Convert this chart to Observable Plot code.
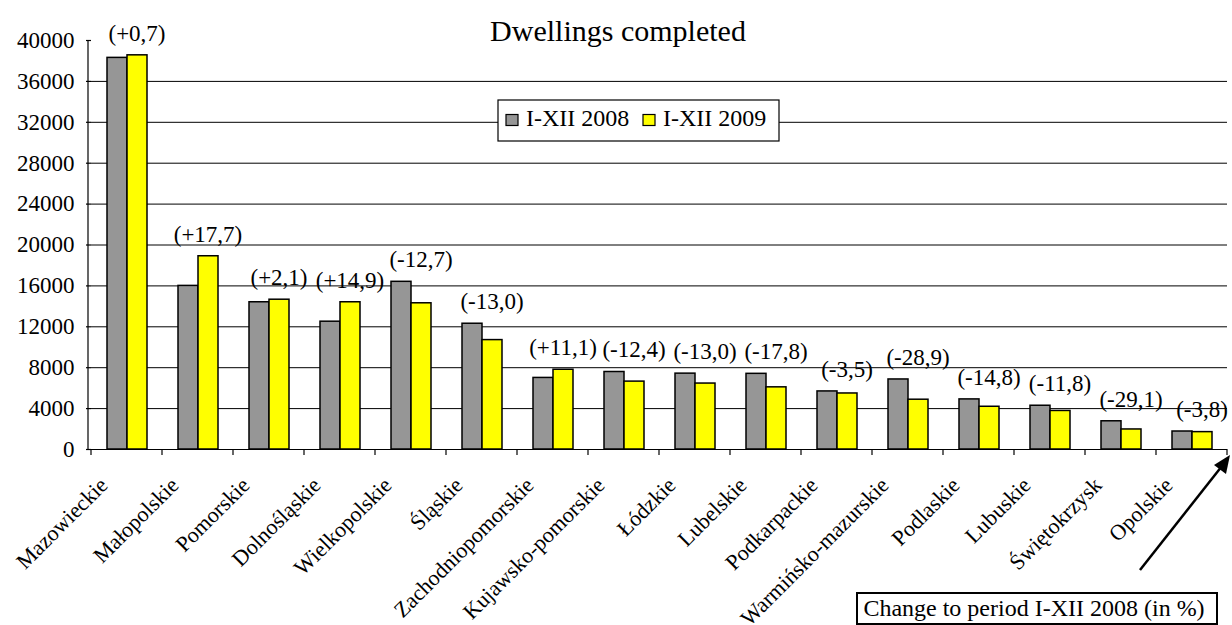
<!DOCTYPE html>
<html><head><meta charset="utf-8">
<script src="https://cdn.jsdelivr.net/npm/d3@7"></script>
<script src="https://cdn.jsdelivr.net/npm/@observablehq/plot@0.6"></script>
<style>body{margin:0;background:#fff} svg{display:block}</style>
</head><body><div id="chart"></div>
<script>
const regions = ["Mazowieckie","Małopolskie","Pomorskie","Dolnośląskie","Wielkopolskie","Śląskie","Zachodniopomorskie","Kujawsko-pomorskie","Łódzkie","Lubelskie","Podkarpackie","Warmińsko-mazurskie","Podlaskie","Lubuskie","Świętokrzysk","Opolskie"];
const dwellings2008 = [38300,16000,14400,12500,16400,12300,7000,7580,7420,7400,5680,6850,4900,4280,2760,1760];
const dwellings2009 = [38550,18900,14650,14400,14300,10700,7800,6640,6450,6080,5480,4870,4180,3770,1960,1700];
const changePct = [0.7,17.7,2.1,14.9,-12.7,-13.0,11.1,-12.4,-13.0,-17.8,-3.5,-28.9,-14.8,-11.8,-29.1,-3.8];
const seriesNames = ["I-XII 2008","I-XII 2009"];
const seriesColors = ["#969696","#ffff00"];
const yTicks = d3.range(0, 40001, 4000);
const gridTicks = yTicks.filter(v => v > 0 && v < 40000);
const titleText = "Dwellings completed";
const noteText = "Change to period I-XII 2008 (in %)";

const fmt = v => `(${v >= 0 ? "+" : "-"}${Math.abs(v).toFixed(1).replace(".", ",")})`;
const rows = regions.flatMap((r, i) => [
  {region: r, series: seriesNames[0], value: dwellings2008[i]},
  {region: r, series: seriesNames[1], value: dwellings2009[i]}
]);
const labels = regions.map((r, i) => ({region: r, top: Math.max(dwellings2008[i], dwellings2009[i]), text: fmt(changePct[i])}));

const W = 1232, H = 625, ML = 88, MR = 2, MT = 40, MB = 176;
const FONT = "Liberation Serif, Times New Roman, serif";

const chart = Plot.plot({
  width: W, height: H, marginLeft: ML, marginRight: MR, marginTop: MT, marginBottom: MB,
  style: {fontFamily: FONT, fontSize: "23px", color: "#000", background: "#fff"},
  fx: {domain: regions, padding: 0, label: null},
  x: {domain: seriesNames, paddingInner: 0, paddingOuter: 0.74, axis: null},
  y: {domain: [0, 40000], axis: null},
  color: {domain: seriesNames, range: seriesColors},
  marks: [
    Plot.ruleY(gridTicks, {stroke: "#000", strokeWidth: 1, strokeOpacity: 1}),
    Plot.barY(rows, {fx: "region", x: "series", y: "value", fill: "series", stroke: "#000", strokeWidth: 1.5}),
    Plot.ruleY([0], {stroke: "#000", strokeWidth: 1.2}),
    Plot.axisY({ticks: yTicks, tickSize: 5, tickPadding: 12, tickFormat: d => String(d), label: null, fontSize: 23, fontFamily: FONT, stroke: "#000", strokeWidth: 1.2}),
    Plot.axisFx({anchor: "bottom", tickRotate: -45, tickSize: 0, tickPadding: 0, dx: -23, dy: 32, fontSize: 22, fontFamily: FONT, label: null}),
    Plot.text(labels, {fx: "region", y: "top", text: "text", dx: 10, dy: -22, fontSize: 23, fontFamily: FONT, fill: "#000"})
  ]
});
document.getElementById("chart").appendChild(chart);

// annotations
const svg = d3.select(chart);
const fxs = chart.scale("fx");
const y0 = H - MB;
const ann = svg.append("g").attr("fill", "none").attr("stroke", "#000");
// y axis line
ann.append("line").attr("x1", ML).attr("x2", ML).attr("y1", MT).attr("y2", y0).attr("stroke-width", 1.2);
// category boundary ticks
const bounds = regions.map(r => fxs.apply(r)).concat([fxs.apply(regions[regions.length - 1]) + fxs.bandwidth]);
bounds.forEach(x => ann.append("line").attr("x1", x).attr("x2", x).attr("y1", y0).attr("y2", y0 + 6).attr("stroke-width", 1.2));

const txt = svg.append("g").attr("font-family", FONT).attr("fill", "#000").attr("text-anchor", "middle");
// title
txt.append("text").attr("x", 618).attr("y", 40.5).attr("font-size", 30).text(titleText);

// legend
const lg = svg.append("g").attr("font-family", FONT).attr("text-anchor", "start");
lg.append("rect").attr("x", 498).attr("y", 100).attr("width", 281).attr("height", 41).attr("fill", "#fff").attr("stroke", "#000").attr("stroke-width", 1.2);
const legendX = [506, 643];
seriesNames.forEach((s, i) => {
  lg.append("rect").attr("x", legendX[i]).attr("y", 114.5).attr("width", 12).attr("height", 11).attr("fill", seriesColors[i]).attr("stroke", "#000").attr("stroke-width", 1.2);
  lg.append("text").attr("x", legendX[i] + 20).attr("y", 126).attr("font-size", 24).attr("fill", "#000").text(s);
});

// arrow
const arr = svg.append("g");
arr.append("line").attr("x1", 1140).attr("y1", 570).attr("x2", 1222).attr("y2", 466).attr("stroke", "#000").attr("stroke-width", 2.5);
arr.append("path").attr("d", "M1230,455 L1214,465 L1226,474 Z").attr("fill", "#000");

// note box
const nb = svg.append("g").attr("font-family", FONT).attr("text-anchor", "middle");
nb.append("rect").attr("x", 857).attr("y", 593).attr("width", 360).attr("height", 31).attr("fill", "#fff").attr("stroke", "#000").attr("stroke-width", 2);
nb.append("text").attr("x", 1034).attr("y", 616).attr("font-size", 24).attr("fill", "#000").text(noteText);
</script>
</body></html>
